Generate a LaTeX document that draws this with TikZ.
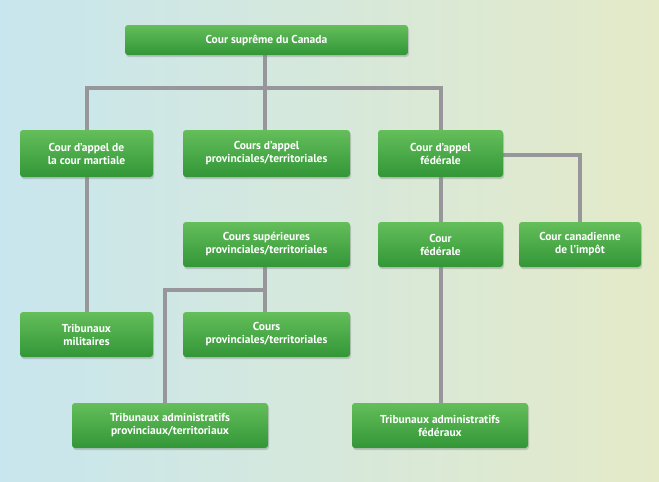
\documentclass[tikz,border=0pt]{standalone}
\usepackage{fontspec}
\setmainfont{PT Sans}
\usetikzlibrary{shadows}
\definecolor{bgL}{RGB}{200,230,238}
\definecolor{bgR}{RGB}{228,234,200}
\definecolor{gTop}{RGB}{100,190,90}
\definecolor{gBot}{RGB}{50,150,55}
\definecolor{ln}{RGB}{150,150,155}
\tikzset{
 box/.style={draw=none,rounded corners=3pt,top color=gTop,bottom color=gBot,
   text=white,font=\bfseries\fontsize{11.5}{13}\selectfont,align=center,
   inner sep=0pt,drop shadow={shadow xshift=1pt,shadow yshift=-2pt,opacity=0.35}},
 con/.style={draw=ln,line width=3.5pt}
}
\begin{document}
\begin{tikzpicture}[x=1pt,y=-1pt]
\shade[left color=bgL,right color=bgR] (0,0) rectangle (659,482);
\useasboundingbox (0,0) rectangle (659,482);
\newcommand\bx[6]{\node[box,minimum width=#3-#2,minimum height=#5-#4] (#1) at ({(#2+#3)/2},{(#4+#5)/2}) {#6};}
% connectors first
\coordinate (h1) at (87,88);
\coordinate (h2) at (441,88);
\coordinate (t0) at (265,88);
\coordinate (m) at (265,290);
\coordinate (l) at (165,290);
\coordinate (k) at (580,155);
\draw[con] (265,40) -- (t0);
\draw[con] (87,155) -- (h1) -- (h2) -- (441,155);
\draw[con] (265,88) -- (265,155);
\draw[con] (87,155) -- (87,335);
\draw[con] (265,245) -- (265,335);
\draw[con] (m) -- (l) -- (165,425);
\draw[con] (441,155) -- (441,425);
\draw[con] (441,155) -- (k) -- (580,245);
\bx{sc}{125}{408}{25}{55}{Cour suprême du Canada}
\bx{cm}{20}{153}{130}{177}{Cour d’appel de\\la cour martiale}
\bx{cap}{183}{350}{130}{177}{Cours d’appel\\provinciales/territoriales}
\bx{caf}{378}{503}{130}{177}{Cour d’appel\\fédérale}
\bx{cs}{183}{350}{222}{267}{Cours supérieures\\provinciales/territoriales}
\bx{cf}{378}{503}{222}{267}{Cour\\fédérale}
\bx{cci}{519}{641}{222}{267}{Cour canadienne\\de l’impôt}
\bx{tm}{20}{153}{312}{357}{Tribunaux\\militaires}
\bx{cp}{183}{350}{312}{357}{Cours\\provinciales/territoriales}
\bx{tap}{72}{268}{403}{448}{Tribunaux administratifs\\provinciaux/territoriaux}
\bx{taf}{352}{528}{403}{448}{Tribunaux administratifs\\fédéraux}
\end{tikzpicture}
\end{document}
